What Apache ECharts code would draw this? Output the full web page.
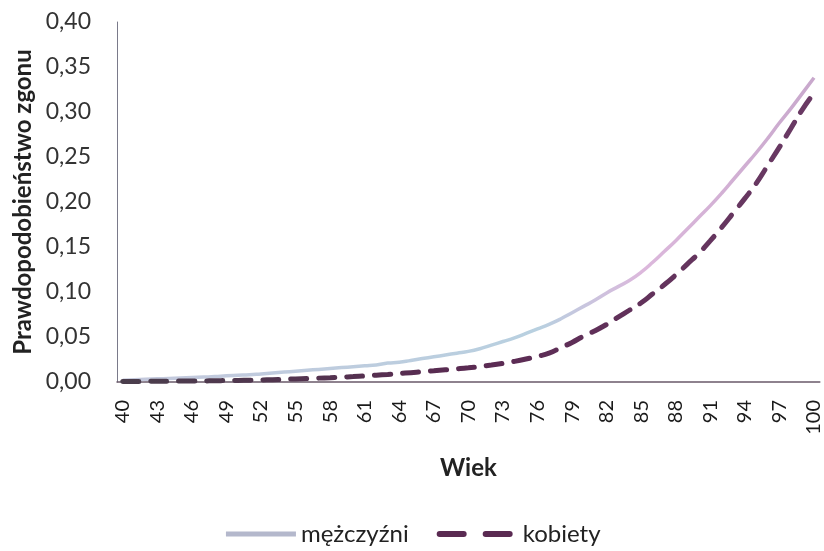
<!DOCTYPE html>
<html><head><meta charset="utf-8">
<script src="https://cdn.jsdelivr.net/npm/echarts@6/dist/echarts.min.js"></script>
<style>html,body{margin:0;padding:0;background:#fff}#c{width:824px;height:551px}</style>
</head><body><div id="c"></div>
<script>
const ages = [];
for (let a = 40; a <= 100; a++) ages.push(String(a));
const men = [
0.002,0.0025,0.003,0.0035,0.004,0.0045,0.005,0.0055,0.006,0.007,
0.0075,0.008,0.009,0.010,0.011,0.012,0.013,0.014,0.015,0.016,
0.017,0.018,0.019,0.021,0.022,0.024,0.026,0.028,0.030,0.032,
0.034,0.037,0.041,0.045,0.049,0.054,0.059,0.064,0.070,0.077,
0.084,0.091,0.099,0.106,0.113,0.122,0.133,0.145,0.157,0.170,
0.183,0.196,0.210,0.225,0.240,0.255,0.271,0.288,0.304,0.321,0.338];
const women = [
0.0005,0.0006,0.0007,0.0008,0.0009,0.001,0.0011,0.0012,0.0014,0.0016,
0.0018,0.002,0.0023,0.0026,0.003,0.0034,0.0038,0.0043,0.0048,0.0054,
0.006,0.0067,0.0075,0.0084,0.0094,0.0104,0.0114,0.0124,0.0135,0.0146,
0.0158,0.0172,0.0188,0.0207,0.0229,0.0255,0.0285,0.032,0.038,0.044,
0.051,0.057,0.064,0.072,0.080,0.088,0.098,0.108,0.119,0.131,
0.143,0.157,0.172,0.188,0.204,0.221,0.241,0.261,0.282,0.303,0.321];
const seriesNames = ['mężczyźni','kobiety'];
const font = 'Lato, "Noto Sans", sans-serif';
const chart = echarts.init(document.getElementById('c'), null, {renderer:'canvas'});
chart.setOption({
  animation:false,
  backgroundColor:'#fff',
  grid:{left:117,right:1,top:22,bottom:169,containLabel:false},
  legend:{
    bottom:0,left:'center',itemWidth:70,itemHeight:12,itemGap:28,
    itemStyle:{opacity:0},
    textStyle:{fontSize:24,color:'#222',fontFamily:font},
    data:[
      {name:seriesNames[0],lineStyle:{color:'#b4b8cc',width:5,type:'solid'}},
      {name:seriesNames[1],lineStyle:{color:'#5a2a52',width:6,type:[24,22],cap:'round'},textStyle:{padding:[0,0,0,8]}}
    ]
  },
  xAxis:{
    type:'category',data:ages,boundaryGap:true,
    name:'Wiek',nameLocation:'middle',nameGap:74,
    nameTextStyle:{fontSize:24,fontWeight:'bold',color:'#222',fontFamily:font},
    axisLine:{lineStyle:{color:'#6a5a6a',width:1.5}},
    axisTick:{show:false},
    axisLabel:{interval:2,rotate:90,fontSize:20,color:'#1a1a1a',margin:18,fontFamily:font}
  },
  yAxis:{
    type:'value',min:0,max:0.4,interval:0.05,
    name:'Prawdopodobieństwo zgonu',nameLocation:'middle',nameGap:82,
    nameTextStyle:{fontSize:24,fontWeight:'bold',color:'#222',fontFamily:font},
    axisLine:{show:true,lineStyle:{color:'#7a7a8a',width:1}},
    axisTick:{show:false},
    splitLine:{show:false},
    axisLabel:{fontSize:23,color:'#333',margin:26,fontFamily:font,
      formatter:v=>v.toFixed(2).replace('.',',')}
  },
  series:[
    {name:seriesNames[0],type:'line',data:men,symbol:'none',smooth:true,
     lineStyle:{width:3.5,color:new echarts.graphic.LinearGradient(0,0,1,0,[
       {offset:0,color:'#c4c8dc'},{offset:0.6,color:'#b8d0e0'},{offset:0.75,color:'#dcb8dc'},{offset:1,color:'#c8a8cc'}])},
     itemStyle:{color:'#b4b8cc'}},
    {name:seriesNames[1],type:'line',data:women,symbol:'none',smooth:true,
     lineStyle:{width:5,type:[16,12],cap:'round',color:new echarts.graphic.LinearGradient(0,0,1,0,[
       {offset:0,color:'#4a3e4c'},{offset:0.5,color:'#5a2a52'},{offset:1,color:'#6a3a64'}])},
     itemStyle:{color:'#5a2a52'}}
  ]
});
</script></body></html>
